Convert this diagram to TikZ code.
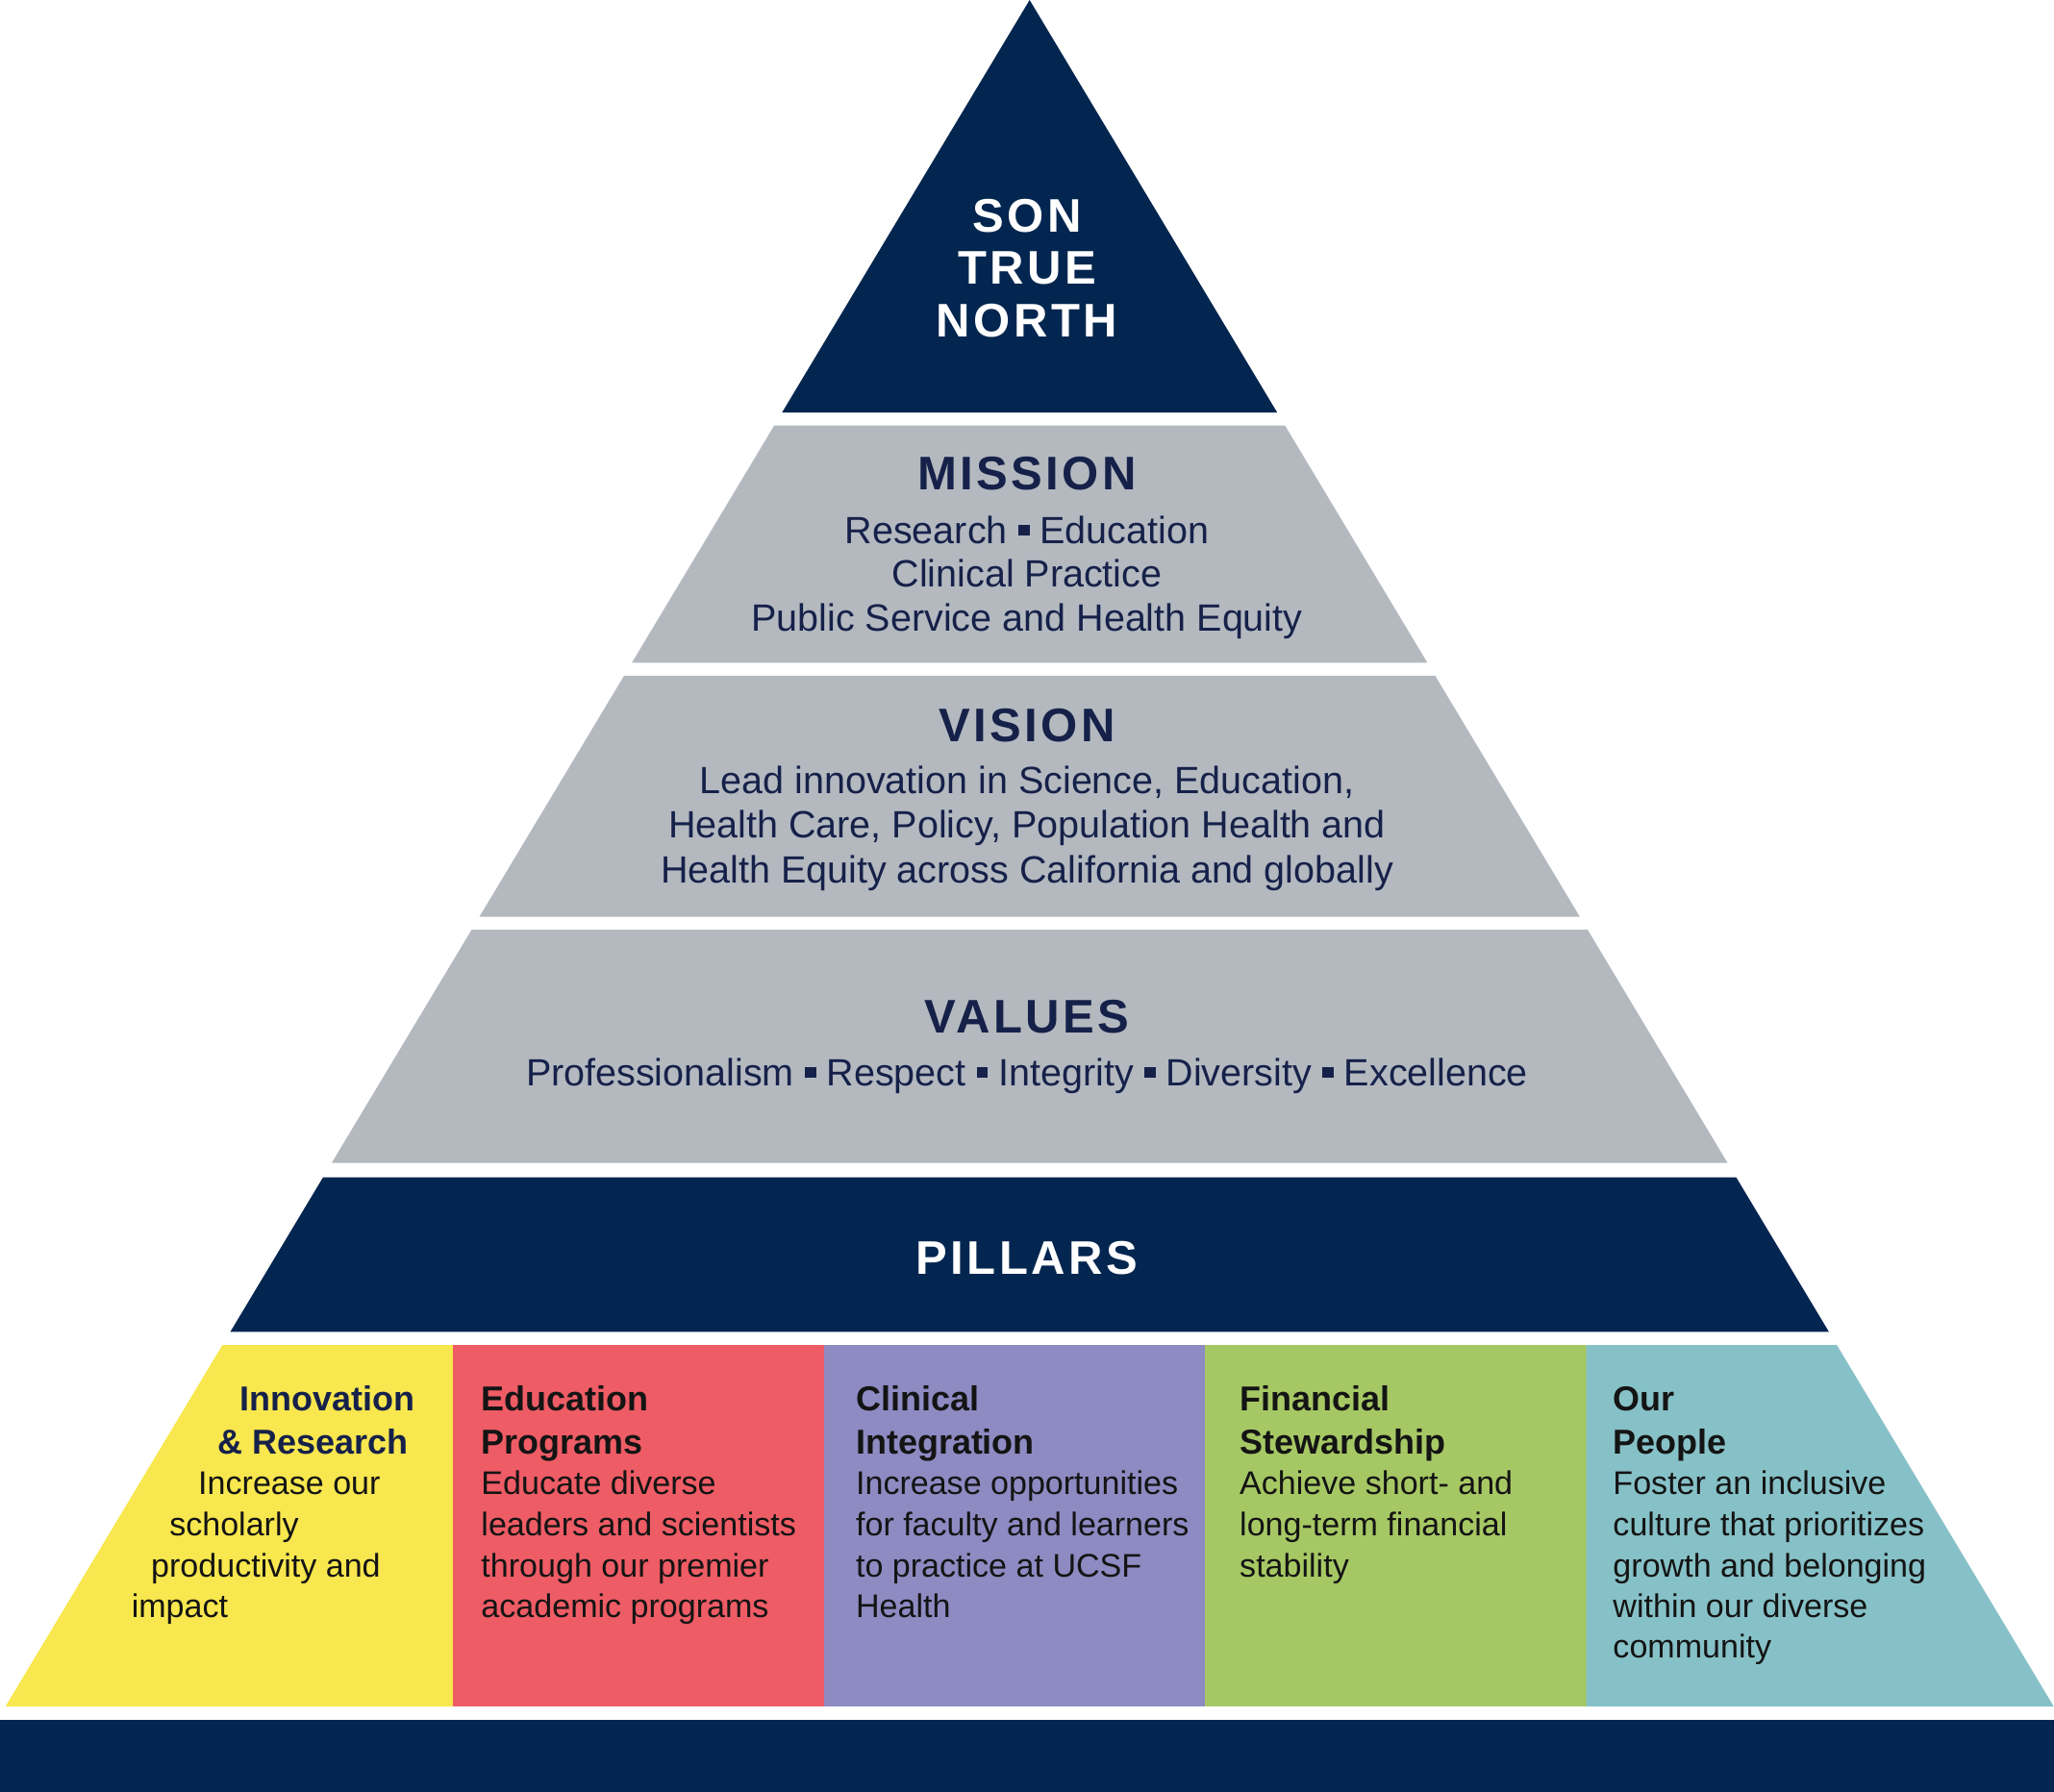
\documentclass[tikz,border=0pt]{standalone}
\usepackage{fontspec}
\setmainfont{Liberation Sans}
\definecolor{navy}{HTML}{02264F}
\definecolor{band}{HTML}{B3B9BF}
\definecolor{ink}{HTML}{16214A}
\definecolor{blk}{HTML}{141414}
\definecolor{pyellow}{HTML}{F8E74E}
\definecolor{pred}{HTML}{EE5C65}
\definecolor{ppurple}{HTML}{8E8AC2}
\definecolor{pgreen}{HTML}{A6C864}
\definecolor{pteal}{HTML}{86C1C7}
\newcommand{\sqb}{\raisebox{0.2em}{\rule{0.3em}{0.3em}}}
\tikzset{
  ttl/.style={font=\fontsize{18}{20}\selectfont\bfseries\addfontfeature{LetterSpace=7}, anchor=base, inner sep=0pt},
  bodytxt/.style={font=\fontsize{14.5}{16}\selectfont, text=ink, anchor=base, inner sep=0pt},
  colhead/.style={font=\fontsize{13.2}{15}\selectfont\bfseries, text=blk, anchor=base west, inner sep=0pt},
  coltxt/.style={font=\fontsize{12.5}{14}\selectfont, text=blk, anchor=base west, inner sep=0pt},
}
\begin{document}
\begin{tikzpicture}[x=0.5pt,y=-0.5pt]
\useasboundingbox (0,0) rectangle (1568,1368);
% shapes
\fill[navy] (786,0) -- (975,315) -- (597,315) -- cycle;
\fill[band] (591,325) -- (981,325) -- (1089.6,506) -- (482.4,506) -- cycle;
\fill[band] (476.4,516) -- (1095.6,516) -- (1206,700) -- (366,700) -- cycle;
\fill[band] (360,710) -- (1212,710) -- (1318.8,888) -- (253.2,888) -- cycle;
\fill[navy] (246.6,899) -- (1325.4,899) -- (1396.2,1017) -- (175.8,1017) -- cycle;
\fill[pyellow] (169.8,1027) -- (346,1027) -- (346,1303) -- (4.2,1303) -- cycle;
\fill[pred] (346,1027) rectangle (629,1303);
\fill[ppurple] (629,1027) rectangle (920,1303);
\fill[pgreen] (920,1027) rectangle (1211,1303);
\fill[pteal] (1211,1027) -- (1402.2,1027) -- (1567.8,1303) -- (1211,1303) -- cycle;
\fill[navy] (0,1313) rectangle (1568,1368);
% top
\node[ttl,text=white] (son) at (784,177) {SON};
\node[ttl,text=white] (true) at (784,217) {TRUE};
\node[ttl,text=white] (north) at (784,257) {NORTH};
% mission
\node[ttl,text=ink] (mission) at (784,374) {MISSION};
\node[bodytxt] (m1) at (784,415) {Research \sqb\ Education};
\node[bodytxt] (m2) at (784,448) {Clinical Practice};
\node[bodytxt] (m3) at (784,482) {Public Service and Health Equity};
% vision
\node[ttl,text=ink] (vision) at (784,566) {VISION};
\node[bodytxt] (v1) at (784,606) {Lead innovation in Science, Education,};
\node[bodytxt] (v2) at (784,640) {Health Care, Policy, Population Health and};
\node[bodytxt] (v3) at (784,674) {Health Equity across California and globally};
% values
\node[ttl,text=ink] (values) at (784,789) {VALUES};
\node[bodytxt] (val1) at (784,829) {Professionalism \sqb\ Respect \sqb\ Integrity \sqb\ Diversity \sqb\ Excellence};
% pillars
\node[ttl,text=white] (pillars) at (784,973) {PILLARS};
% column 1
\node[colhead,text=ink] (c1h1) at (183,1077) {Innovation};
\node[colhead,text=ink] (c1h2) at (166,1110) {\& Research};
\node[coltxt] (c1l1) at (151,1141) {Increase our};
\node[coltxt] (c1l2) at (129,1173) {scholarly};
\node[coltxt] (c1l3) at (115,1204) {productivity and};
\node[coltxt] (c1l4) at (100,1235) {impact};
% column 2
\node[colhead] (c2h1) at (367,1077) {Education};
\node[colhead] (c2h2) at (367,1110) {Programs};
\node[coltxt] (c2l1) at (367,1141) {Educate diverse};
\node[coltxt] (c2l2) at (367,1173) {leaders and scientists};
\node[coltxt] (c2l3) at (367,1204) {through our premier};
\node[coltxt] (c2l4) at (367,1235) {academic programs};
% column 3
\node[colhead] (c3h1) at (653,1077) {Clinical};
\node[colhead] (c3h2) at (653,1110) {Integration};
\node[coltxt] (c3l1) at (653,1141) {Increase opportunities};
\node[coltxt] (c3l2) at (653,1173) {for faculty and learners};
\node[coltxt] (c3l3) at (653,1204) {to practice at UCSF};
\node[coltxt] (c3l4) at (653,1235) {Health};
% column 4
\node[colhead] (c4h1) at (946,1077) {Financial};
\node[colhead] (c4h2) at (946,1110) {Stewardship};
\node[coltxt] (c4l1) at (946,1141) {Achieve short- and};
\node[coltxt] (c4l2) at (946,1173) {long-term financial};
\node[coltxt] (c4l3) at (946,1204) {stability};
% column 5
\node[colhead] (c5h1) at (1231,1077) {Our};
\node[colhead] (c5h2) at (1231,1110) {People};
\node[coltxt] (c5l1) at (1231,1141) {Foster an inclusive};
\node[coltxt] (c5l2) at (1231,1173) {culture that prioritizes};
\node[coltxt] (c5l3) at (1231,1204) {growth and belonging};
\node[coltxt] (c5l4) at (1231,1235) {within our diverse};
\node[coltxt] (c5l5) at (1231,1266) {community};
\end{tikzpicture}
\end{document}
